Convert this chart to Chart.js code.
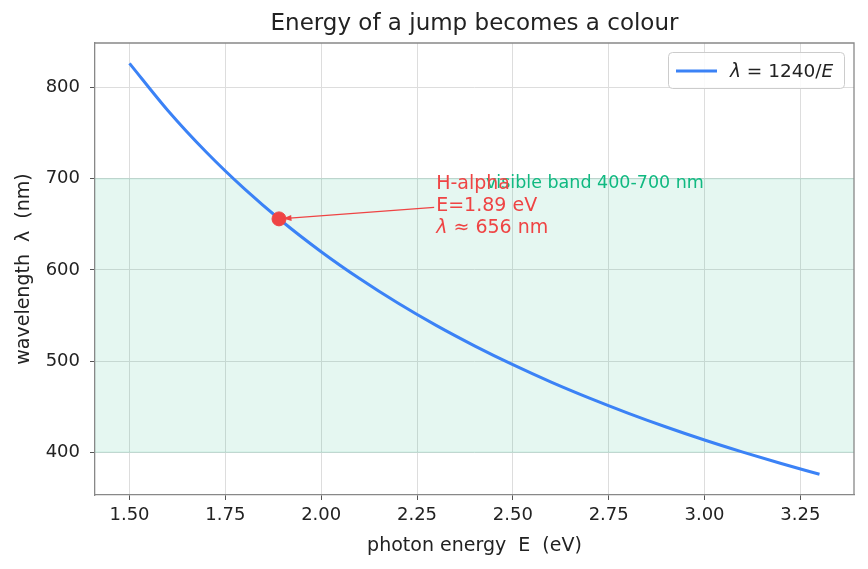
<!DOCTYPE html>
<html>
<head>
<meta charset="utf-8">
<script src="https://cdn.jsdelivr.net/npm/chart.js@4.4.1/dist/chart.umd.min.js"></script>
<style>
  html, body { margin: 0; padding: 0; background: #fff; }
  #wrap { width: 868px; height: 569px; position: relative; }
</style>
</head>
<body>
<div id="wrap"><canvas id="energyChart"></canvas></div>
<script>
// Values
const energies = [1.5, 1.6, 1.7, 1.8, 1.9, 2.0, 2.1, 2.2, 2.3, 2.4, 2.5, 2.6, 2.7, 2.8, 2.9, 3.0, 3.1, 3.2, 3.3];
const wavelengths = [826.7, 775.0, 729.4, 688.9, 652.6, 620.0, 590.5, 563.6, 539.1, 516.7, 496.0, 476.9, 459.3, 442.9, 427.6, 413.3, 400.0, 387.5, 375.8];
const markerPoint = [1.89, 656];
const bandRange = [400, 700];
const xTicks = [1.5, 1.75, 2.0, 2.25, 2.5, 2.75, 3.0, 3.25];
const yTicks = [400, 500, 600, 700, 800];
const noteLines = ["H-alpha", "E=1.89 eV", "656 nm"];

const FONT = "'DejaVu Sans', sans-serif";
const BLUE = "#3b82f6";
const RED = "#ef4444";
const GREEN = "#10b981";

// Zeichnet Band, Beschriftungen, Legende und Rahmen
const extras = {
    id: "extras",
    beforeDatasetsDraw(chart) {
        const { ctx, chartArea: a, scales: { y } } = chart;
        const top = y.getPixelForValue(bandRange[1]);
        const bot = y.getPixelForValue(bandRange[0]);
        ctx.save();
        ctx.fillStyle = "rgba(16,185,129,0.11)";
        ctx.fillRect(a.left, top, a.right - a.left, bot - top);
        ctx.strokeStyle = "rgba(16,185,129,0.18)";
        ctx.lineWidth = 1;
        ctx.beginPath();
        ctx.moveTo(a.left, top); ctx.lineTo(a.right, top);
        ctx.moveTo(a.left, bot); ctx.lineTo(a.right, bot);
        ctx.stroke();
        ctx.restore();
    },
    afterDatasetsDraw(chart) {
        const { ctx, chartArea: a, scales: { x, y } } = chart;
        ctx.save();

        // green band label
        ctx.fillStyle = GREEN;
        ctx.font = "17.5px " + FONT;
        ctx.textBaseline = "alphabetic";
        ctx.fillText("visible band 400-700 nm", x.getPixelForValue(2.43), y.getPixelForValue(690));

        // annotation text
        const tx = x.getPixelForValue(2.30);
        const lastBase = y.getPixelForValue(640);
        const lh = 22;
        ctx.fillStyle = RED;
        ctx.font = "19px " + FONT;
        ctx.fillText(noteLines[0], tx, lastBase - 2 * lh);
        ctx.fillText(noteLines[1], tx, lastBase - lh);
        ctx.font = "italic 19px " + FONT;
        ctx.fillText("\u03bb", tx, lastBase);
        const lw = ctx.measureText("\u03bb").width;
        ctx.font = "19px " + FONT;
        ctx.fillText(" \u2248 " + noteLines[2], tx + lw, lastBase);

        // arrow
        const mx = x.getPixelForValue(markerPoint[0]);
        const my = y.getPixelForValue(markerPoint[1]);
        const sx = tx - 2, sy = lastBase - lh - 4;
        const ang = Math.atan2(my - sy, mx - sx);
        const ex = mx - Math.cos(ang) * 4, ey = my - Math.sin(ang) * 4;
        ctx.strokeStyle = RED;
        ctx.lineWidth = 1.3;
        ctx.beginPath();
        ctx.moveTo(sx, sy); ctx.lineTo(ex, ey);
        ctx.stroke();
        ctx.fillStyle = RED;
        ctx.beginPath();
        ctx.moveTo(ex, ey);
        ctx.lineTo(ex - 9 * Math.cos(ang - 0.35), ey - 9 * Math.sin(ang - 0.35));
        ctx.lineTo(ex - 9 * Math.cos(ang + 0.35), ey - 9 * Math.sin(ang + 0.35));
        ctx.closePath();
        ctx.fill();

        // legend
        const lx = 668, ly = 52, lwBox = 176, lhBox = 36;
        ctx.fillStyle = "rgba(255,255,255,0.85)";
        ctx.strokeStyle = "#cccccc";
        ctx.lineWidth = 1;
        ctx.beginPath();
        ctx.roundRect(lx + 0.5, ly + 0.5, lwBox, lhBox, 4);
        ctx.fill(); ctx.stroke();
        ctx.strokeStyle = BLUE;
        ctx.lineWidth = 3;
        ctx.beginPath();
        ctx.moveTo(676, 71); ctx.lineTo(717, 71);
        ctx.stroke();
        ctx.fillStyle = "#222";
        let px = 730;
        ctx.font = "italic 18.5px " + FONT;
        ctx.fillText("\u03bb", px, 77); px += ctx.measureText("\u03bb").width;
        ctx.font = "18.5px " + FONT;
        const mid = " = 1240/";
        ctx.fillText(mid, px, 77); px += ctx.measureText(mid).width;
        ctx.font = "italic 18.5px " + FONT;
        ctx.fillText("E", px, 77);

        ctx.restore();
    },
    afterDraw(chart) {
        const { ctx, chartArea: a } = chart;
        ctx.save();
        // top and right frame
        ctx.strokeStyle = "#888";
        ctx.lineWidth = 1.3;
        ctx.beginPath();
        ctx.moveTo(a.left, a.top); ctx.lineTo(a.right, a.top); ctx.lineTo(a.right, a.bottom);
        ctx.stroke();

        // title and axis titles
        ctx.fillStyle = "#222";
        ctx.textAlign = "center";
        ctx.textBaseline = "middle";
        ctx.font = "23px " + FONT;
        ctx.fillText("Energy of a jump becomes a colour", (a.left + a.right) / 2, 24);
        ctx.font = "19px " + FONT;
        ctx.fillText("photon energy  E  (eV)", (a.left + a.right) / 2, 546);
        ctx.translate(24, (a.top + a.bottom) / 2);
        ctx.rotate(-Math.PI / 2);
        ctx.fillText("wavelength  \u03bb  (nm)", 0, 0);
        ctx.restore();
    }
};

function createChart() {
    const ctx = document.getElementById("energyChart").getContext("2d");
    window.energyChart = new Chart(ctx, {
        type: "line",
        data: {
            datasets: [{
                label: "\u03bb = 1240/E",
                data: energies.map((e, i) => ({ x: e, y: wavelengths[i] })),
                borderColor: BLUE,
                borderWidth: 3,
                pointRadius: 0,
                cubicInterpolationMode: "monotone",
                fill: false,
                order: 2
            }, {
                label: "H-alpha",
                data: [{ x: markerPoint[0], y: markerPoint[1] }],
                showLine: false,
                pointRadius: 7,
                pointBackgroundColor: RED,
                pointBorderColor: RED,
                order: 1
            }]
        },
        options: {
            responsive: true,
            maintainAspectRatio: false,
            animation: false,
            layout: { padding: { left: 0, right: 14, top: 43, bottom: 0 } },
            plugins: { legend: { display: false }, title: { display: false }, tooltip: { enabled: false } },
            scales: {
                x: {
                    type: "linear",
                    min: 1.41, max: 3.39,
                    afterBuildTicks: s => { s.ticks = xTicks.map(v => ({ value: v })); },
                    afterFit: s => { s.height = 74; },
                    grid: { color: "#dddddd", tickColor: "#555", tickLength: 5, lineWidth: 1 },
                    border: { display: true, color: "#888", width: 1.3 },
                    ticks: { color: "#222", font: { family: FONT, size: 18 }, padding: 5, maxRotation: 0,
                             callback: v => v.toFixed(2) }
                },
                y: {
                    type: "linear",
                    min: 353, max: 849,
                    afterBuildTicks: s => { s.ticks = yTicks.map(v => ({ value: v })); },
                    afterFit: s => { s.width = 95; },
                    grid: { color: "#dddddd", tickColor: "#555", tickLength: 5, lineWidth: 1 },
                    border: { display: true, color: "#888", width: 1.3 },
                    ticks: { color: "#222", font: { family: FONT, size: 18 }, padding: 10 }
                }
            }
        },
        plugins: [extras]
    });
}

document.addEventListener("DOMContentLoaded", createChart);
</script>
</body>
</html>
